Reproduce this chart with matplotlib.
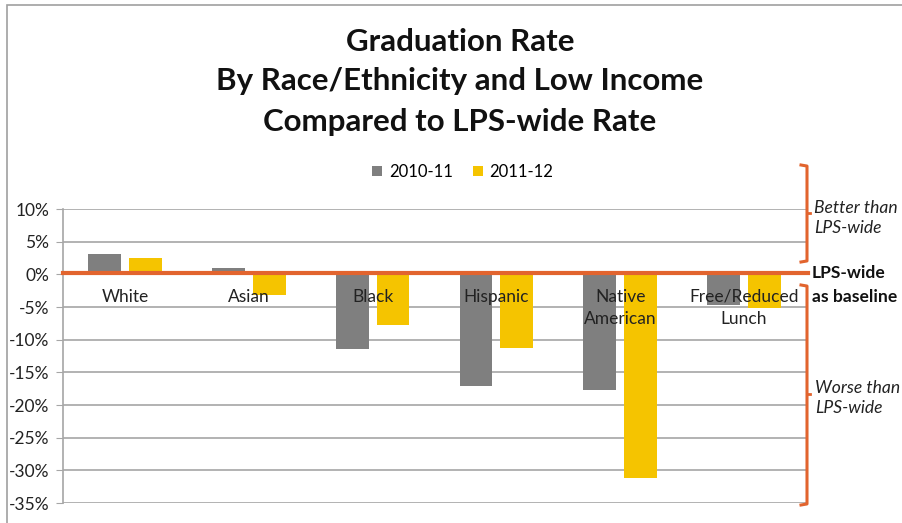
import matplotlib
matplotlib.use("Agg")
import matplotlib.pyplot as plt
from matplotlib.patches import Rectangle
import numpy as np

categories = ["White", "Asian", "Black", "Hispanic", "Native\nAmerican", "Free/Reduced\nLunch"]
series_names = ["2010-11", "2011-12"]
vals_1011 = [3.1, 0.9, -11.4, -17.1, -17.7, -4.7]
vals_1112 = [2.5, -3.2, -7.8, -11.3, -31.1, -5.2]
yticks = [10, 5, 0, -5, -10, -15, -20, -25, -30, -35]
title_lines = ["Graduation Rate", "By Race/Ethnicity and Low Income", "Compared to LPS-wide Rate"]

GRAY = "#7f7f7f"
YELLOW = "#f5c400"
ORANGE = "#e2642e"
FONT = ["Lato", "DejaVu Sans"]
plt.rcParams['font.family'] = FONT

W, H = 902, 523
fig = plt.figure(figsize=(W/100, H/100), dpi=100)

def fx(px): return px / W
def fy(py): return 1 - py / H

ax = fig.add_axes([fx(63), fy(503), fx(806) - fx(63), fy(209) - fy(503)])
x = np.arange(len(categories))
bw = 0.265
off = 0.165
ax.bar(x - off, vals_1011, bw, color=GRAY, label=series_names[0], zorder=2)
ax.bar(x + off, vals_1112, bw, color=YELLOW, label=series_names[1], zorder=2)
ax.set_xlim(-0.5, len(categories) - 0.5)
ax.set_ylim(-35, 10)
ax.set_yticks(yticks)
ax.set_yticklabels([f"{t}%" for t in yticks], fontsize=12.5, color="#222222")
ax.set_xticks([])
ax.grid(axis="y", color="#a6a6a6", linewidth=1.2, zorder=0)
for s in ["top", "right", "bottom"]:
    ax.spines[s].set_visible(False)
ax.spines["left"].set_color("#a6a6a6")
ax.spines["left"].set_linewidth(1.2)
ax.tick_params(axis="y", length=5, color="#a6a6a6", pad=5)

# category labels inside plot just below zero
for i, c in enumerate(categories):
    ax.text(i, -2.2, c, ha="center", va="top", fontsize=12.5, color="#222222",
            linespacing=1.45, zorder=3)

# orange baseline
ax.axhline(0.2, color=ORANGE, linewidth=3, zorder=4, xmax=1.003, clip_on=False)

# legend
ax.legend(loc="center", bbox_to_anchor=((fx(463) - fx(63)) / (fx(806) - fx(63)), (fy(172) - fy(503)) / (fy(209) - fy(503))),
          ncol=2, frameon=False, fontsize=12, handlelength=0.6, handleheight=0.6,
          columnspacing=1.2, handletextpad=0.4)

# titles
for t, py in zip(title_lines, [42, 81, 122]):
    fig.text(fx(460), fy(py), t, ha="center", va="center", fontsize=22.5, fontweight="bold", color="#111111")

# border (left and top only visible)
fig.add_artist(Rectangle((fx(7), fy(540)), 1.2, fy(5) - fy(540), transform=fig.transFigure,
                         fill=False, edgecolor="#a0a0a0", linewidth=1.2))

# brackets
def bracket(y0, y1, ymid):
    xl = fx(801); xr = fx(807)
    fig.add_artist(plt.Line2D([xl, xr, xr, xl], [fy(y0), fy(y0) - 0.002, fy(y1) + 0.002, fy(y1)],
                              transform=fig.transFigure, color=ORANGE, linewidth=2.2))
    fig.add_artist(plt.Line2D([xr, fx(810)], [fy(ymid), fy(ymid)], transform=fig.transFigure,
                              color=ORANGE, linewidth=2))

bracket(165, 262, 213)
bracket(285, 505, 394)

fig.text(fx(814), fy(218), "Better than\nLPS-wide", fontsize=12.6, style="italic", ha="left", va="center",
         color="#222222", linespacing=1.3)
fig.text(fx(812), fy(285), "LPS-wide\nas baseline", fontsize=12.6, fontweight="bold", ha="left", va="center",
         color="#111111", linespacing=1.55)
fig.text(fx(815), fy(398), "Worse than\nLPS-wide", fontsize=12.6, style="italic", ha="left", va="center",
         color="#222222", linespacing=1.3)

fig.savefig("out.png", dpi=100, facecolor="white")
